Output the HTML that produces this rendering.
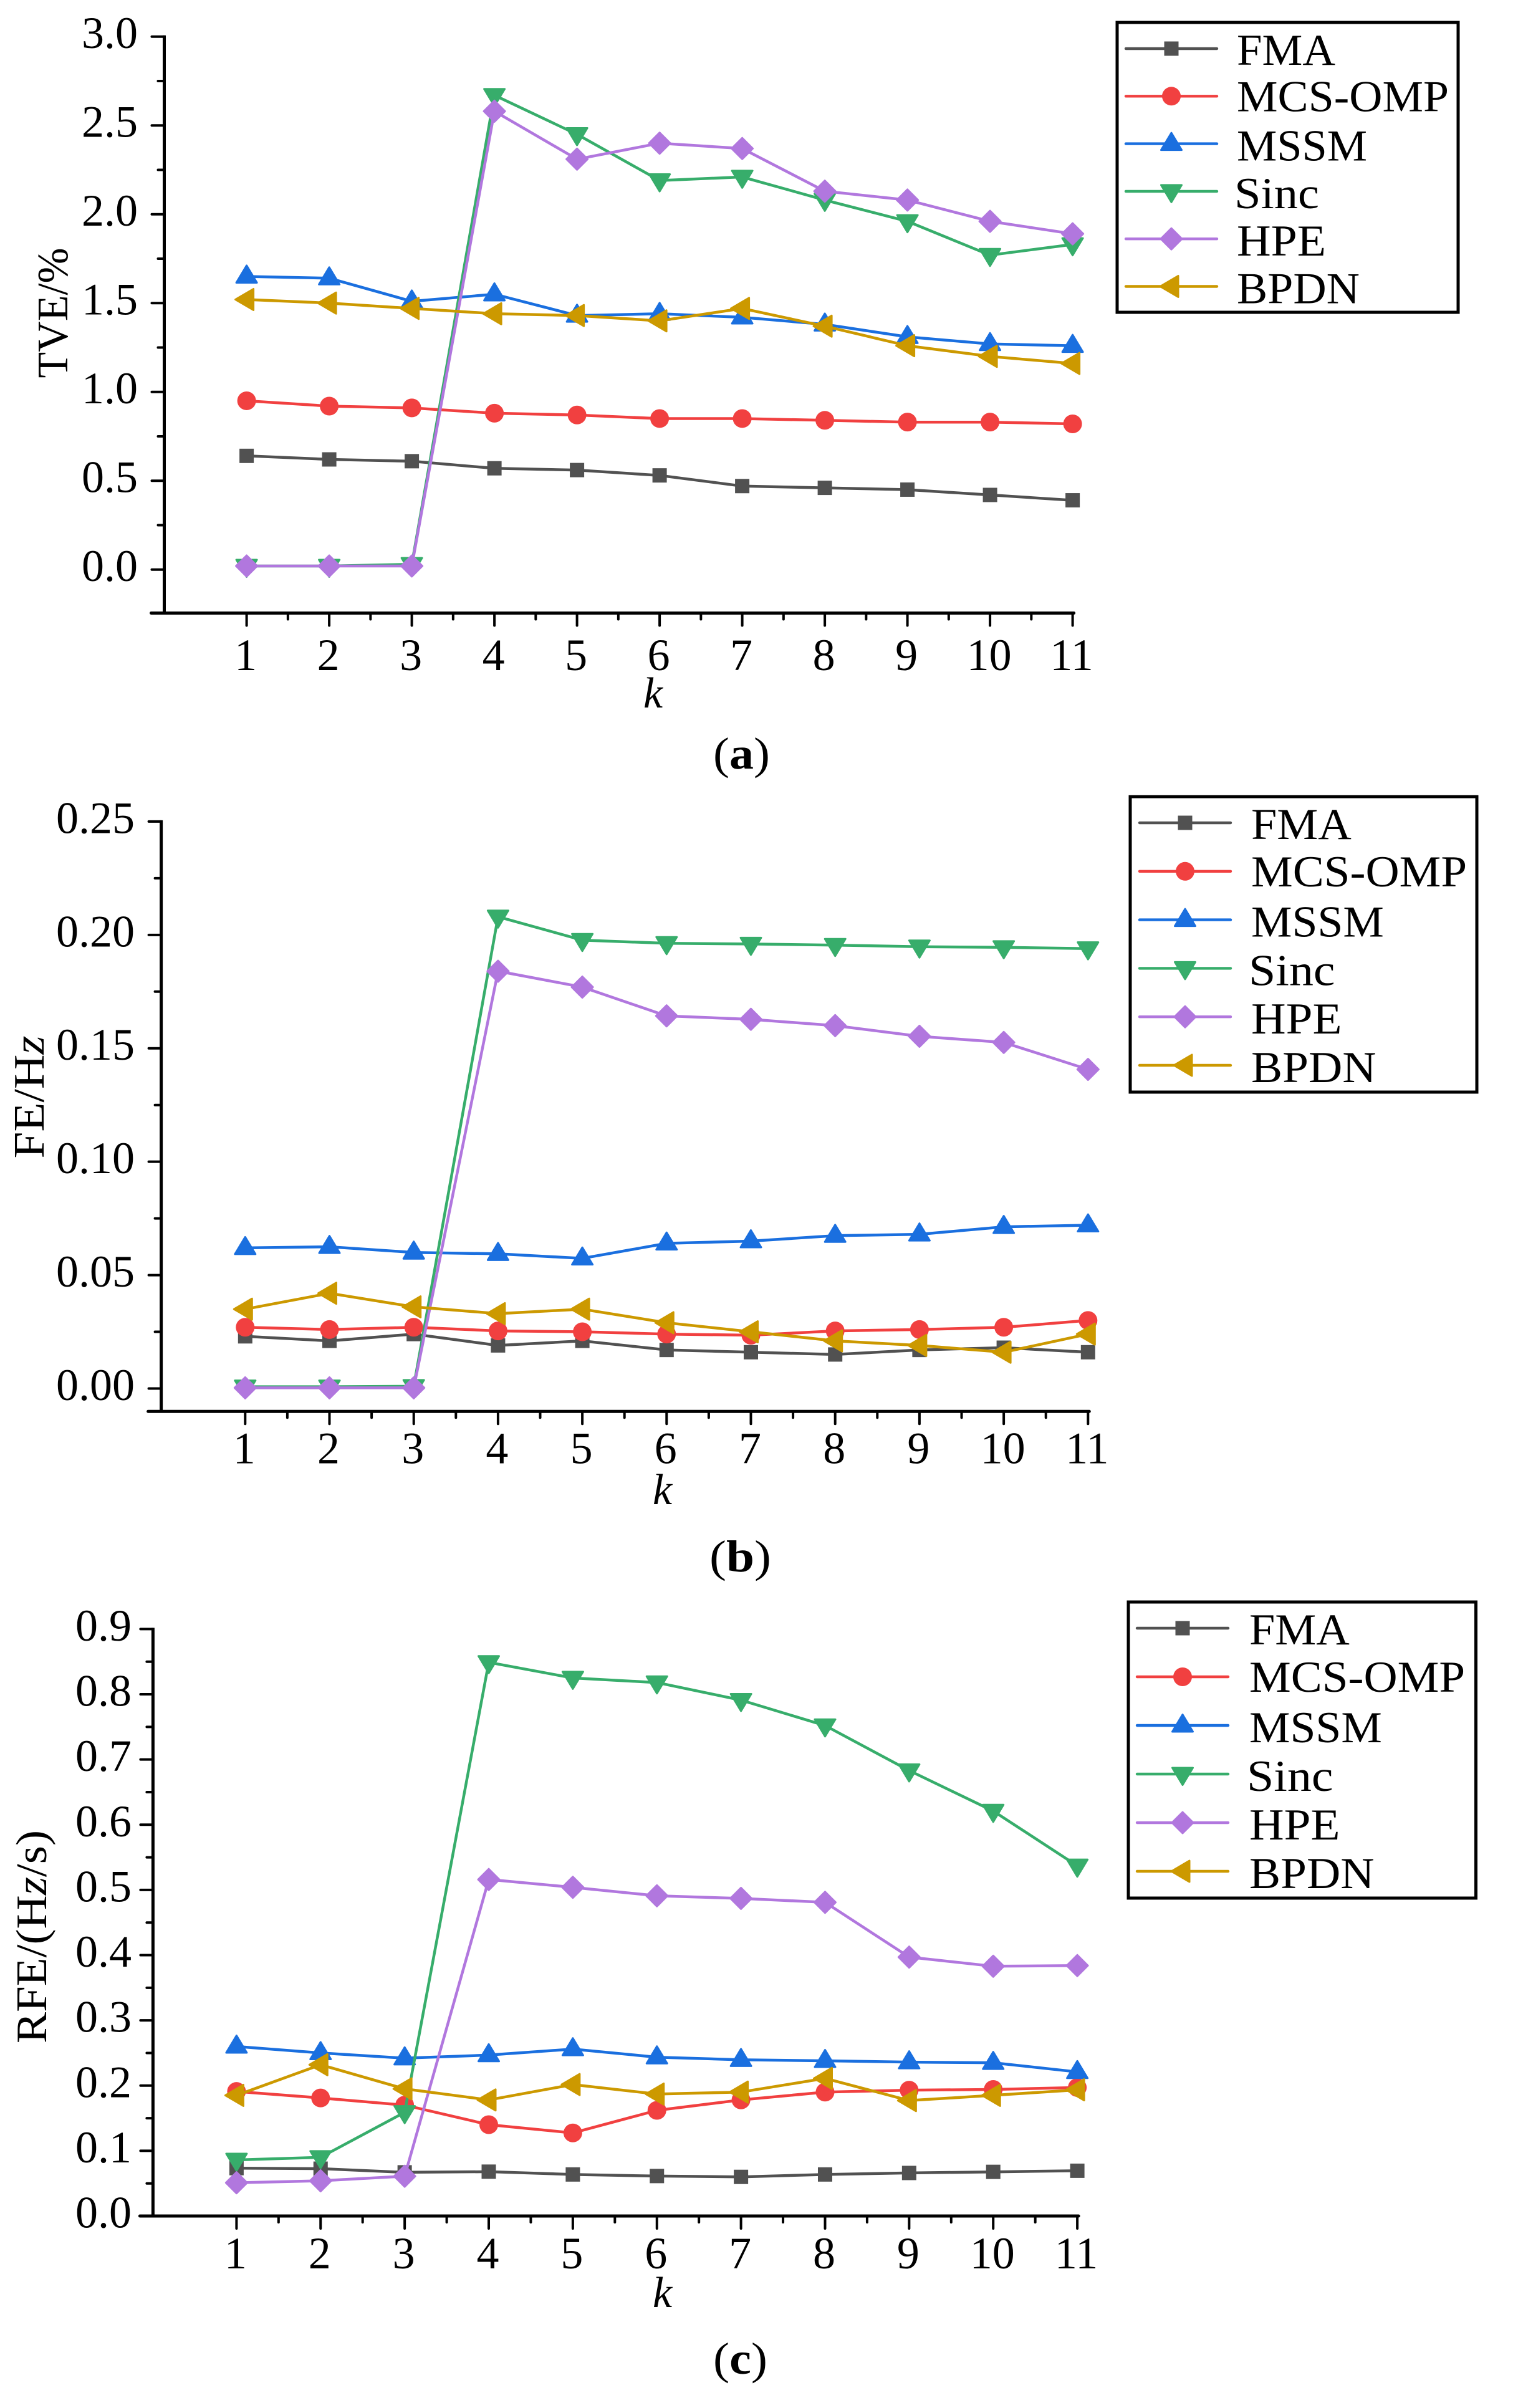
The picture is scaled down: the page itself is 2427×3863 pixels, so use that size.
<!DOCTYPE html>
<html lang="en">
<head>
<meta charset="utf-8">
<title>TVE, FE and RFE versus k</title>
<style>
html,body{margin:0;padding:0;background:#fff;}
svg{display:block;}
text{font-family:"Liberation Serif",serif;fill:#000;}
</style>
</head>
<body>
<svg id="figure" xmlns="http://www.w3.org/2000/svg" width="2427" height="3863" viewBox="0 0 2427 3863"></svg>
<script>
// ---------- shared categories and series names ----------
const categories = [1, 2, 3, 4, 5, 6, 7, 8, 9, 10, 11];
const seriesNames = ['FMA', 'MCS-OMP', 'MSSM', 'Sinc', 'HPE', 'BPDN'];

// ---------- panel (a) TVE ----------
const tveFMA  = [0.64, 0.62, 0.61, 0.57, 0.56, 0.53, 0.47, 0.46, 0.45, 0.42, 0.39];
const tveMCS  = [0.95, 0.92, 0.91, 0.88, 0.87, 0.85, 0.85, 0.84, 0.83, 0.83, 0.82];
const tveMSSM = [1.65, 1.64, 1.51, 1.55, 1.43, 1.44, 1.42, 1.38, 1.31, 1.27, 1.26];
const tveSinc = [0.02, 0.02, 0.03, 2.67, 2.45, 2.19, 2.21, 2.08, 1.96, 1.77, 1.83];
const tveHPE  = [0.02, 0.02, 0.02, 2.58, 2.31, 2.40, 2.37, 2.13, 2.08, 1.96, 1.89];
const tveBPDN = [1.52, 1.50, 1.47, 1.44, 1.43, 1.40, 1.47, 1.37, 1.26, 1.20, 1.16];
const tveTicks = ['0.0', '0.5', '1.0', '1.5', '2.0', '2.5', '3.0'];

// ---------- panel (b) FE ----------
const feFMA  = [0.023, 0.021, 0.024, 0.019, 0.021, 0.017, 0.016, 0.015, 0.017, 0.018, 0.016];
const feMCS  = [0.027, 0.026, 0.027, 0.0254, 0.025, 0.024, 0.0235, 0.0254, 0.026, 0.027, 0.030];
const feMSSM = [0.062, 0.0625, 0.060, 0.0594, 0.0574, 0.064, 0.065, 0.0674, 0.068, 0.0713, 0.072];
const feSinc = [0.0008, 0.0008, 0.001, 0.208, 0.1977, 0.1963, 0.196, 0.1955, 0.1948, 0.1945, 0.194];
const feHPE  = [0.0003, 0.0003, 0.0003, 0.184, 0.177, 0.1643, 0.1628, 0.160, 0.1553, 0.1526, 0.1407];
const feBPDN = [0.035, 0.042, 0.036, 0.033, 0.035, 0.029, 0.025, 0.021, 0.019, 0.016, 0.024];
const feTicks = ['0.00', '0.05', '0.10', '0.15', '0.20', '0.25'];

// ---------- panel (c) RFE ----------
const rfeFMA  = [0.0734, 0.0726, 0.067, 0.068, 0.0637, 0.0613, 0.060, 0.0637, 0.066, 0.0677, 0.0694];
const rfeMCS  = [0.191, 0.181, 0.170, 0.140, 0.1274, 0.162, 0.178, 0.190, 0.193, 0.194, 0.197];
const rfeMSSM = [0.260, 0.250, 0.242, 0.2468, 0.256, 0.2435, 0.2395, 0.238, 0.236, 0.235, 0.221];
const rfeSinc = [0.086, 0.090, 0.159, 0.849, 0.825, 0.818, 0.791, 0.752, 0.683, 0.621, 0.537];
const rfeHPE  = [0.051, 0.054, 0.061, 0.516, 0.504, 0.491, 0.487, 0.481, 0.397, 0.383, 0.384];
const rfeBPDN = [0.185, 0.232, 0.195, 0.178, 0.2016, 0.187, 0.190, 0.211, 0.177, 0.185, 0.1935];
const rfeTicks = ['0.0', '0.1', '0.2', '0.3', '0.4', '0.5', '0.6', '0.7', '0.8', '0.9'];

// ---------- drawing ----------
const SVGNS = 'http://www.w3.org/2000/svg';
const figure = document.getElementById('figure');
const seriesColors = ['#515151', '#F14040', '#1A6FDF', '#37AD6B', '#B177DE', '#CC9900'];
const seriesSlugs = ['fma', 'mcs-omp', 'mssm', 'sinc', 'hpe', 'bpdn'];
const legendTextWidths = [158, 340, 209, 136, 143, 197];
const legendTextShift = [0, 0, 0, -4, 0, 0];
const legendBaselineShift = [26, 24, 27, 27, 27, 27];

function mk(tag, parent, attrs) {
  const el = document.createElementNS(SVGNS, tag);
  for (const k in attrs) el.setAttribute(k, attrs[k]);
  parent.appendChild(el);
  return el;
}

function drawMarker(parent, kind, x, y, color) {
  let m;
  const rounded = { fill: color, stroke: color, 'stroke-width': 3, 'stroke-linejoin': 'round' };
  if (kind === 0) {
    m = mk('rect', parent, { x: x - 11.5, y: y - 11.5, width: 23, height: 23, fill: color });
  } else if (kind === 1) {
    m = mk('circle', parent, { cx: x, cy: y, r: 15, fill: color });
  } else if (kind === 2) {
    m = mk('polygon', parent, Object.assign({ points: [x, y - 17.5, x + 16.5, y + 10, x - 16.5, y + 10].join(' ') }, rounded));
  } else if (kind === 3) {
    m = mk('polygon', parent, Object.assign({ points: [x, y + 17.5, x + 16.5, y - 10, x - 16.5, y - 10].join(' ') }, rounded));
  } else if (kind === 4) {
    m = mk('polygon', parent, Object.assign({ points: [x, y - 17, x + 17, y, x, y + 17, x - 17, y].join(' ') }, rounded));
  } else {
    m = mk('polygon', parent, Object.assign({ points: [x - 18, y, x + 11, y - 17, x + 11, y + 17].join(' ') }, rounded));
  }
  return m;
}

function drawPanel(p, seriesList, tickLabels, yMaxTick, yMinAxis, yMinorStep) {
  const g = mk('g', figure, {});
  
  

  const xScale = k => p.x1 + p.xStep * (k - 1);
  const yScale = v => p.y0 + (p.yTop - p.y0) * v / yMaxTick;
  const axisBottom = yScale(yMinAxis);
  const axisTop = yScale(yMaxTick);
  const lastX = xScale(categories[categories.length - 1]);

  // axes
  const yAxis = mk('line', g, { x1: p.axisX, x2: p.axisX, y1: axisTop - 2, y2: axisBottom + 2, stroke: '#000', 'stroke-width': 5 });
  
  
  const xAxis = mk('line', g, { x1: p.axisX - 21, x2: lastX + 2, y1: axisBottom, y2: axisBottom, stroke: '#000', 'stroke-width': 5, 'stroke-linecap': 'round' });
  
  

  // y ticks and labels
  const majorStep = yMaxTick / (tickLabels.length - 1);
  tickLabels.forEach((label, i) => {
    const v = majorStep * i;
    const ty = yScale(v);
    const t = mk('line', g, { x1: p.axisX - 20, x2: p.axisX, y1: ty, y2: ty, stroke: '#000', 'stroke-width': 4, 'stroke-linecap': 'round' });
    
    
    const txt = mk('text', g, { x: p.yLabelRight, y: ty + 18.5, 'text-anchor': 'end', 'font-size': 72 });
    txt.textContent = label;
    
    
  });
  const minorCount = Math.round((yMaxTick - yMinAxis) / yMinorStep);
  for (let i = 0; i <= minorCount; i++) {
    const v = yMaxTick - i * yMinorStep;
    if (Math.abs(v / majorStep - Math.round(v / majorStep)) < 1e-6) continue;
    if (v < yMinAxis + 1e-6) continue;
    const ty = yScale(v);
    const t = mk('line', g, { x1: p.axisX - 10, x2: p.axisX, y1: ty, y2: ty, stroke: '#000', 'stroke-width': 4, 'stroke-linecap': 'round' });
    
    
  }

  // x ticks and labels
  categories.forEach((k, i) => {
    const tx = xScale(k);
    const t = mk('line', g, { x1: tx, x2: tx, y1: axisBottom, y2: axisBottom + 20, stroke: '#000', 'stroke-width': 4, 'stroke-linecap': 'round' });
    
    
    const txt = mk('text', g, { x: tx - 1.5, y: p.xLabelY, 'text-anchor': 'middle', 'font-size': 72 });
    txt.textContent = String(k);
    
    
    if (i < categories.length - 1) {
      const mx = tx + p.xStep / 2;
      const mt = mk('line', g, { x1: mx, x2: mx, y1: axisBottom, y2: axisBottom + 10, stroke: '#000', 'stroke-width': 4, 'stroke-linecap': 'round' });
      
      
    }
  });

  // axis titles
  const xTitle = mk('text', g, { x: p.kX - 2, y: p.kY, 'font-size': 70, 'font-style': 'italic' });
  xTitle.textContent = 'k';
  
  

  const yTitle = mk('text', g, {
    transform: 'translate(' + p.titleX + ' ' + p.titleY + ') rotate(-90)',
    'text-anchor': 'middle', 'font-size': 70,
    textLength: p.titleLen, lengthAdjust: 'spacingAndGlyphs'
  });
  
  
  p.titleParts.forEach(part => {
    const ts = mk('tspan', yTitle, part.italic ? { 'font-style': 'italic' } : {});
    ts.textContent = part.text;
  });

  // panel caption
  const cap = mk('text', g, { x: p.capX, y: p.capY, 'font-size': 72, textLength: p.capLen, lengthAdjust: 'spacingAndGlyphs' });
  
  
  const c1 = mk('tspan', cap, {});
  c1.textContent = '(';
  const c2 = mk('tspan', cap, { 'font-weight': 'bold' });
  c2.textContent = p.id;
  const c3 = mk('tspan', cap, {});
  c3.textContent = ')';

  // series
  seriesList.forEach((values, s) => {
    const sg = mk('g', g, {});
    
    
    const pts = values.map((v, i) => xScale(categories[i]).toFixed(1) + ',' + yScale(v).toFixed(1)).join(' ');
    const line = mk('polyline', sg, { points: pts, fill: 'none', stroke: seriesColors[s], 'stroke-width': 4.5, 'stroke-linejoin': 'round' });
    
    
    values.forEach((v, i) => {
      const m = drawMarker(sg, s, xScale(categories[i]), yScale(v), seriesColors[s]);
      
      
    });
  });

  // legend
  const lg = mk('g', g, {});
  
  
  const box = mk('rect', lg, { x: p.legX, y: p.legY, width: p.legW, height: p.legH, fill: '#fff', stroke: '#000', 'stroke-width': 5 });
  
  
  seriesNames.forEach((name, s) => {
    const ey = p.legRowY + p.legRowStep * s;
    const eg = mk('g', lg, {});
    
    
    mk('line', eg, { x1: p.legLineX, x2: p.legLineX + 146, y1: ey, y2: ey, stroke: seriesColors[s], 'stroke-width': 4.4, 'stroke-linecap': 'round' });
    drawMarker(eg, s, p.legLineX + 73, ey, seriesColors[s]);
    const t = mk('text', eg, {
      x: p.legTextX - 2 + legendTextShift[s], y: ey + legendBaselineShift[s], 'font-size': 71,
      textLength: legendTextWidths[s] * p.legTextScale, lengthAdjust: 'spacingAndGlyphs'
    });
    t.textContent = name;
    
    
  });
}

drawPanel({
  id: 'a', x1: 395.6, xStep: 132.5, y0: 913.7, yTop: 58.7, axisX: 263.5,
  yLabelRight: 221, xLabelY: 1075, kX: 1034, kY: 1135,
  titleX: 108, titleY: 502, titleLen: 209, titleParts: [{ text: 'TVE/%' }],
  capX: 1144, capY: 1233, capLen: 91,
  legX: 1792, legY: 36, legW: 547, legH: 465, legRowY: 78, legRowStep: 76.3,
  legLineX: 1806, legTextX: 1986, legTextScale: 1
}, [tveFMA, tveMCS, tveMSSM, tveSinc, tveHPE, tveBPDN], tveTicks, 3.0, -0.245, 0.25);

drawPanel({
  id: 'b', x1: 393.3, xStep: 135.2, y0: 2227.5, yTop: 1317.9, axisX: 258.6,
  yLabelRight: 216, xLabelY: 2347.5, kX: 1049, kY: 2413,
  titleX: 70, titleY: 1760, titleLen: 197, titleParts: [{ text: 'FE/H' }, { text: 'z', italic: true }],
  capX: 1138, capY: 2521, capLen: 99,
  legX: 1813, legY: 1278, legW: 556, legH: 474, legRowY: 1320, legRowStep: 77.8,
  legLineX: 1828, legTextX: 2009, legTextScale: 1.018
}, [feFMA, feMCS, feMSSM, feSinc, feHPE, feBPDN], feTicks, 0.25, -0.0101, 0.025);

drawPanel({
  id: 'c', x1: 379.4, xStep: 134.87, y0: 3555, yTop: 2613.4, axisX: 245.4,
  yLabelRight: 211, xLabelY: 3639, kX: 1049, kY: 3701,
  titleX: 74, titleY: 3107, titleLen: 342, titleParts: [{ text: 'RFE/(H' }, { text: 'z', italic: true }, { text: '/s)' }],
  capX: 1144, capY: 3808, capLen: 87,
  legX: 1810, legY: 2570, legW: 557.5, legH: 475, legRowY: 2612, legRowStep: 78,
  legLineX: 1824, legTextX: 2006, legTextScale: 1.018
}, [rfeFMA, rfeMCS, rfeMSSM, rfeSinc, rfeHPE, rfeBPDN], rfeTicks, 0.9, 0, 0.05);
</script>
</body>
</html>
